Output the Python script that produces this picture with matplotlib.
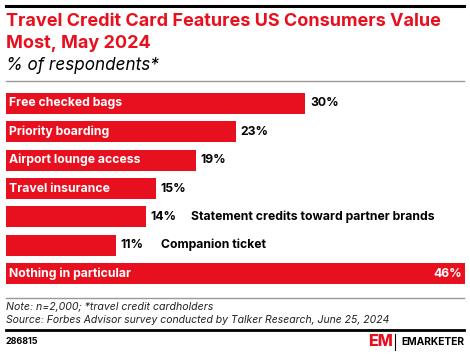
import matplotlib.pyplot as plt
from matplotlib.lines import Line2D

categories = ['Free checked bags', 'Priority boarding', 'Airport lounge access',
              'Travel insurance', 'Statement credits toward partner brands',
              'Companion ticket', 'Nothing in particular']
values = [30, 23, 19, 15, 14, 11, 46]
inside = [True, True, True, True, False, False, True]

RED = '#E8101E'
W, H = 470, 355

plt.rcParams['font.family'] = ['Inter', 'DejaVu Sans']

fig = plt.figure(figsize=(W / 100, H / 100), dpi=100)


def fx(px):
    return px / W


def fy(py):
    return 1 - py / H


# header rules and titles
fig.add_artist(Line2D([fx(6), fx(464)], [fy(6), fy(6)], color='black', lw=2.2))
fig.text(fx(6), fy(22), 'Travel Credit Card Features US Consumers Value', color=RED,
         fontsize=13, fontweight='bold', va='center')
fig.text(fx(6), fy(43), 'Most, May 2024', color=RED, fontsize=13, fontweight='bold', va='center')
fig.text(fx(6), fy(66), '% of respondents*', color='black', fontsize=12.3, style='italic', va='center')
fig.add_artist(Line2D([fx(6), fx(464)], [fy(80.5), fy(80.5)], color='#999999', lw=1))

ax = fig.add_axes([fx(6), fy(284), fx(465) - fx(6), fy(93) - fy(284)])
ypos = list(range(len(categories)))
ax.barh(ypos, values, height=0.74, color=RED)
ax.set_xlim(0, 46)
ax.set_ylim(6.37, -0.37)
ax.axis('off')

fs = 8.8
for y, cat, v, ins in zip(ypos, categories, values, inside):
    if v == max(values):
        ax.text(0.3, y, cat, color='white', fontsize=fs, fontweight='bold', va='center')
        ax.text(v - 0.3, y, f'{v}%', color='white', fontsize=fs, fontweight='bold',
                va='center', ha='right')
    elif ins:
        ax.text(0.3, y, cat, color='white', fontsize=fs, fontweight='bold', va='center')
        ax.text(v + 0.5, y, f'{v}%', color='black', fontsize=fs, fontweight='bold', va='center')
    else:
        ax.text(v + 0.5, y, f'{v}%', color='black', fontsize=fs, fontweight='bold', va='center')
        ax.text(v + 4.5, y, cat, color='black', fontsize=fs, fontweight='bold', va='center')

# footer
fig.add_artist(Line2D([fx(6), fx(464)], [fy(297.5), fy(297.5)], color='#999999', lw=1))
fig.text(fx(6), fy(307), 'Note: n=2,000; *travel credit cardholders', fontsize=7.6,
         style='italic', va='center', color='#222222')
fig.text(fx(6), fy(320), 'Source: Forbes Advisor survey conducted by Talker Research, June 25, 2024',
         fontsize=7.5, style='italic', va='center', color='#222222')
fig.add_artist(Line2D([fx(6), fx(464)], [fy(329.5), fy(329.5)], color='black', lw=2))
fig.text(fx(6), fy(342), '286815', fontsize=6.5, fontweight='bold', va='center')
fig.text(fx(368), fy(342), 'EM', color=RED, fontsize=11.5, fontweight='heavy', va='center')
fig.add_artist(Line2D([fx(395), fx(395)], [fy(334), fy(350)], color='black', lw=0.8))
fig.text(fx(464), fy(342), 'EMARKETER', fontsize=7.4, fontweight='bold', va='center', ha='right')

fig.savefig('out.png', dpi=100)
